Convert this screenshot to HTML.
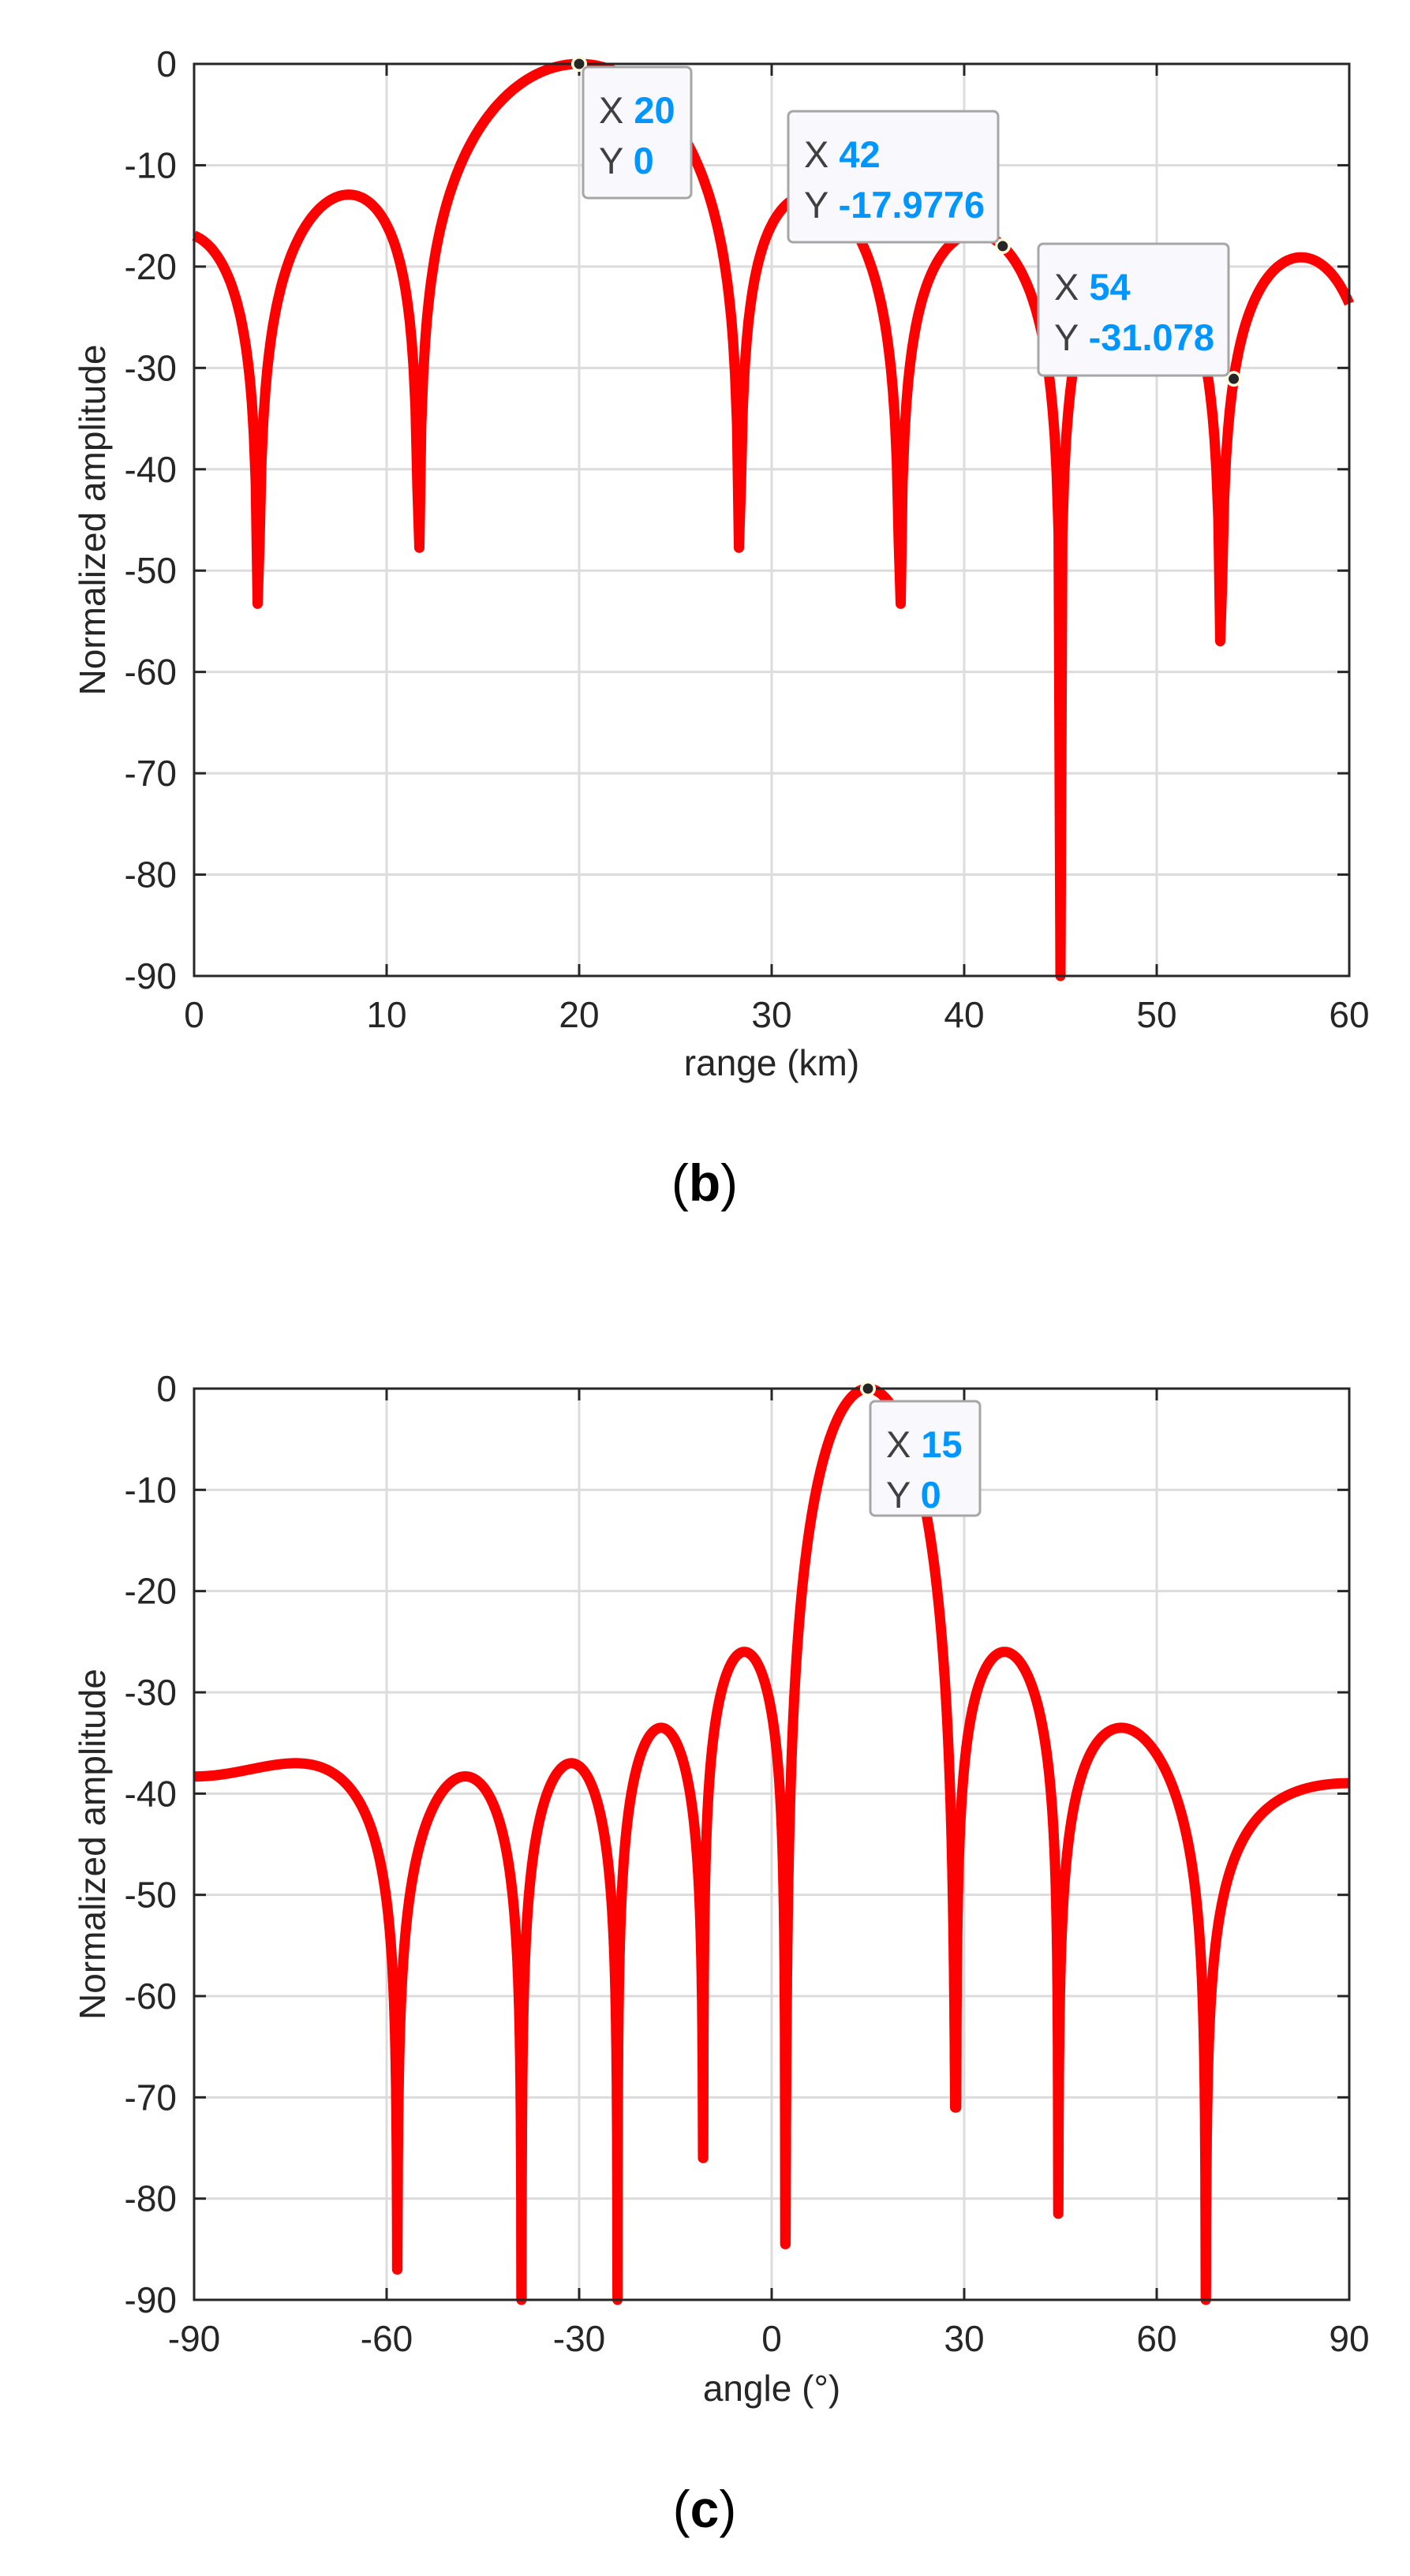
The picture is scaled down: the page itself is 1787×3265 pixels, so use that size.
<!DOCTYPE html>
<html><head><meta charset="utf-8"><style>
html,body{margin:0;padding:0;background:#fff;}
svg{display:block;}
text{font-family:"Liberation Sans",Arial,sans-serif;}
</style></head><body>
<svg id="s" width="1787" height="3265" xmlns="http://www.w3.org/2000/svg">
<rect width="1787" height="3265" fill="#fff"/>
<g id="g"></g>
</svg>
<script>
var NS="http://www.w3.org/2000/svg";
var G=document.getElementById('g');
function el(n,a,t){var e=document.createElementNS(NS,n);for(var k in a)e.setAttribute(k,a[k]);if(t!==undefined)e.textContent=t;G.appendChild(e);return e;}
var L=246,R=1710;
function axes(T,B,xt,xlab,xfun){
  var H=B-T;
  xt.forEach(function(v){var x=xfun(v);el('line',{x1:x,y1:T,x2:x,y2:B,stroke:'#dcdcdc','stroke-width':3});});
  for(var d=0;d<=90;d+=10){var y=T+d/90*H;el('line',{x1:L,y1:y,x2:R,y2:y,stroke:'#dcdcdc','stroke-width':3});}
}
function frame(T,B,xt,xfun){
  var H=B-T;
  el('rect',{x:L,y:T,width:R-L,height:H,fill:'none',stroke:'#262626','stroke-width':3});
  xt.forEach(function(v){var x=xfun(v);
    el('line',{x1:x,y1:B,x2:x,y2:B-15,stroke:'#262626','stroke-width':3});
    el('line',{x1:x,y1:T,x2:x,y2:T+15,stroke:'#262626','stroke-width':3});
    el('text',{x:x,y:B+65,'font-size':46,fill:'#262626','text-anchor':'middle'},String(v));
  });
  for(var d=0;d<=90;d+=10){var y=T+d/90*H;
    el('line',{x1:L,y1:y,x2:L+15,y2:y,stroke:'#262626','stroke-width':3});
    el('line',{x1:R,y1:y,x2:R-15,y2:y,stroke:'#262626','stroke-width':3});
    el('text',{x:224,y:y+16,'font-size':46,fill:'#262626','text-anchor':'end'},d==0?'0':'-'+d);
  }
  el('text',{transform:'translate(133,'+((T+B)/2)+') rotate(-90)','font-size':46,fill:'#262626','text-anchor':'middle'},'Normalized amplitude');
}
function curve(pts){
  el('polyline',{points:pts.map(function(p){return p[0].toFixed(1)+','+p[1].toFixed(1);}).join(' '),fill:'none',stroke:'#ff0000','stroke-width':13,'stroke-linejoin':'round'});
}
function marker(x,y){
  el('circle',{cx:x,cy:y,r:10,fill:'#ffffe0'});
  el('circle',{cx:x,cy:y,r:6.5,fill:'#262626'});
}
function tip(x,y,w,h,xv,yv){
  el('rect',{x:x,y:y,width:w,height:h,rx:6,fill:'#f9f9fd',stroke:'#a6a6a6','stroke-width':3});
  var t1=el('text',{x:x+20,y:y+71,'font-size':47,fill:'#404040'});
  t1.innerHTML='X <tspan fill="#0096ff" font-weight="bold">'+xv+'</tspan>';
  var t2=el('text',{x:x+20,y:y+135,'font-size':47,fill:'#404040'});
  t2.innerHTML='Y <tspan fill="#0096ff" font-weight="bold">'+yv+'</tspan>';
}
// ---- Plot b ----
var Tb=81,Bb=1237;
var xb=[0,10,20,30,40,50,60];
function Xb(v){return L+v/60*(R-L);}
function Yb(d){return Tb+(-d)/90*(Bb-Tb);}
axes(Tb,Bb,xb,null,Xb);
var pb=[];
for(var i=0;i<=600;i++){var x=i/10;var u=(x-20)/(25/3);
  var a;var den=9*Math.sin(Math.PI*u/9);
  if(Math.abs(den)<1e-9)a=1;else a=Math.abs(Math.sin(Math.PI*u)/den);
  var db=20*Math.log10(Math.max(a,1e-10));if(db<-90)db=-90;if(db>0)db=0;
  pb.push([Xb(x),Yb(db)]);}
curve(pb);
frame(Tb,Bb,xb,Xb);
el('text',{x:978,y:1363,'font-size':46,fill:'#262626','text-anchor':'middle'},'range (km)');
marker(Xb(20),Yb(0));marker(Xb(42),Yb(-17.9776));marker(Xb(54),Yb(-31.078));
tip(739,85,137,166,'20','0');
tip(999,141,266,166,'42','-17.9776');
tip(1316,309,241,167,'54','-31.078');
var tb=el('text',{x:893,y:1522,'font-size':66,fill:'#000','text-anchor':'middle','font-family':'Liberation Serif,serif'});
tb.innerHTML='(<tspan font-weight="bold">b</tspan>)';
// ---- Plot c ----
var Tc=1760,Bc=2915;
var xc=[-90,-60,-30,0,30,60,90];
function Xc(v){return L+(v+90)/180*(R-L);}
function Yc(d){return Tc+(-d)/90*(Bc-Tc);}
axes(Tc,Bc,xc,null,Xc);
var peaks={'-6.5':-37,'-5.5':-37,'-4.5':-38.3,'-3.5':-37,'-2.5':-33.5,'-1.5':-26,'1.5':-26,'2.5':-33.5,'3.5':-37.8};
var nulls={'-5':-87,'-4':-90,'-3':-90,'-2':-76,'-1':-84.5,'1':-71,'2':-81.5,'3':-90};
var s15=Math.sin(15*Math.PI/180);
var pc=[];
for(var i=0;i<=18000;i++){var th=-90+i*0.01;var t=(Math.sin(th*Math.PI/180)-s15)/0.222;
  var a;
  if(Math.abs(t)<1){a=Math.pow(Math.cos(Math.PI*t/2),2);}
  else{var c=Math.floor(t)+0.5;var A=peaks[String(c)];if(A===undefined)A=-38;
    a=Math.pow(10,A/20)*Math.abs(Math.sin(Math.PI*t));}
  var n=Math.round(t);var nd=nulls[String(n)];
  var db=20*Math.log10(Math.max(a,1e-10));
  if(nd!==undefined&&db<nd)db=nd;
  if(db<-90)db=-90;if(db>0)db=0;
  pc.push([Xc(th),Yc(db)]);}
curve(pc);
frame(Tc,Bc,xc,Xc);
el('text',{x:978,y:3043,'font-size':46,fill:'#262626','text-anchor':'middle'},'angle (°)');
marker(Xc(15),Yc(0));
tip(1103,1776,139,145,'15','0');
var tc=el('text',{x:893,y:3203,'font-size':66,fill:'#000','text-anchor':'middle','font-family':'Liberation Serif,serif'});
tc.innerHTML='(<tspan font-weight="bold">c</tspan>)';
</script>
</body></html>
